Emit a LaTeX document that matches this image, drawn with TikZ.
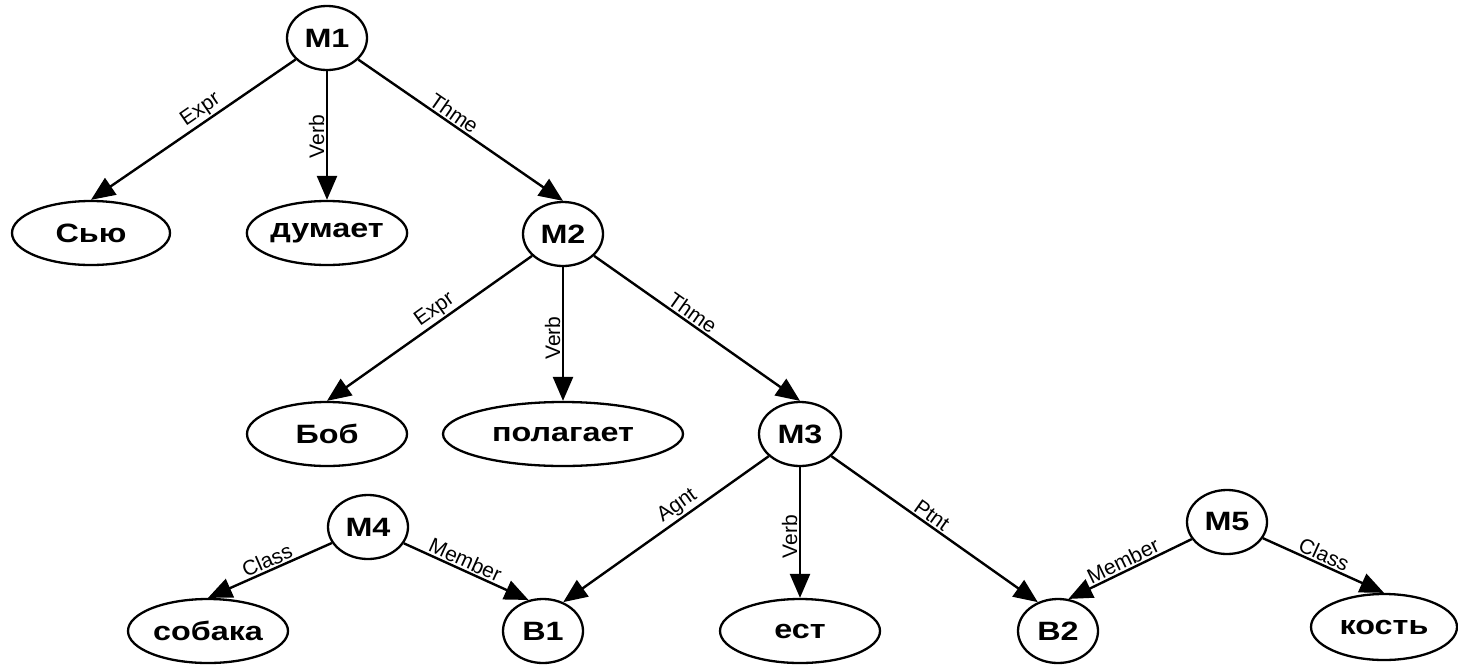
\documentclass[tikz,border=0pt]{standalone}
\usepackage{fontspec}
\setmainfont{Liberation Sans}
\newfontfamily\nodefont{Liberation Sans}[FakeStretch=1.22]
\usetikzlibrary{shapes.geometric,arrows.meta}

\begin{document}
\begin{tikzpicture}[x=1pt,y=-1pt,
  nd/.style={ellipse, draw, line width=2.3pt, inner sep=0pt, minimum height=64pt,
             font=\nodefont\bfseries\fontsize{26.5}{30}\selectfont},
  mn/.style={nd, minimum width=80pt},
  lbl/.style={font=\fontsize{21}{25}\selectfont, inner sep=1.5pt},
  arc/.style={line width=2.4pt, -{Triangle[length=24pt,width=20pt]}},
]
\useasboundingbox (0,0) rectangle (1458,664);

% propositions and base nodes
\node[mn] (M1) at (327,38) {M1};
\node[nd, minimum width=158pt] (sju) at (91,233) {Сью};
\node[nd, minimum width=155pt] (dumaet) at (327,233) {думает};
\node[mn] (M2) at (563,234) {M2};
\node[nd, minimum width=160pt] (bob) at (327,434) {Боб};
\node[nd, minimum width=240pt] (polagaet) at (563,434) {полагает};
\node[mn, minimum width=82pt] (M3) at (800,434) {M3};
\node[mn] (M4) at (368,527) {M4};
\node[nd, minimum width=160pt] (sobaka) at (208,631) {собака};
\node[mn] (B1) at (543,631) {B1};
\node[nd, minimum width=160pt] (est) at (800,631) {ест};
\node[mn] (B2) at (1058,631) {B2};
\node[mn] (M5) at (1227,522) {M5};
\node[nd, minimum width=146pt, minimum height=66pt] (kost) at (1384,627) {кость};

% arcs of M1
\draw[arc] (M1) -- node[lbl, pos=0.43, sloped, above] {Expr} (sju.north);
\draw[arc] (M1) -- node[lbl, pos=0.51, rotate=90, anchor=south] {Verb} (dumaet.north);
\draw[arc] (M1) -- node[lbl, pos=0.44, sloped, above] {Thme} (M2.north);

% arcs of M2
\draw[arc] (M2) -- node[lbl, pos=0.44, sloped, above] {Expr} (bob.north);
\draw[arc] (M2) -- node[lbl, pos=0.53, rotate=90, anchor=south] {Verb} (polagaet.north);
\draw[arc] (M2) -- node[lbl, pos=0.45, sloped, above] {Thme} (M3.north);

% arcs of M3
\draw[arc] (M3) -- node[lbl, pos=0.41, sloped, above] {Agnt} (B1.55);
\draw[arc] (M3) -- node[lbl, pos=0.53, rotate=90, anchor=south] {Verb} (est.north);
\draw[arc] (M3) -- node[lbl, pos=0.46, sloped, above] {Ptnt} (B2.125);

% arcs of M4
\draw[arc] (M4) -- node[lbl, pos=0.49, sloped, above] {Class} (sobaka.north);
\draw[arc] (M4) -- node[lbl, pos=0.46, sloped, above] {Member} (B1.115);

% arcs of M5
\draw[arc] (M5) -- node[lbl, pos=0.52, sloped, above] {Member} (B2.72);
\draw[arc] (M5) -- node[lbl, pos=0.47, sloped, above] {Class} (kost.north);
\end{tikzpicture}
\end{document}
